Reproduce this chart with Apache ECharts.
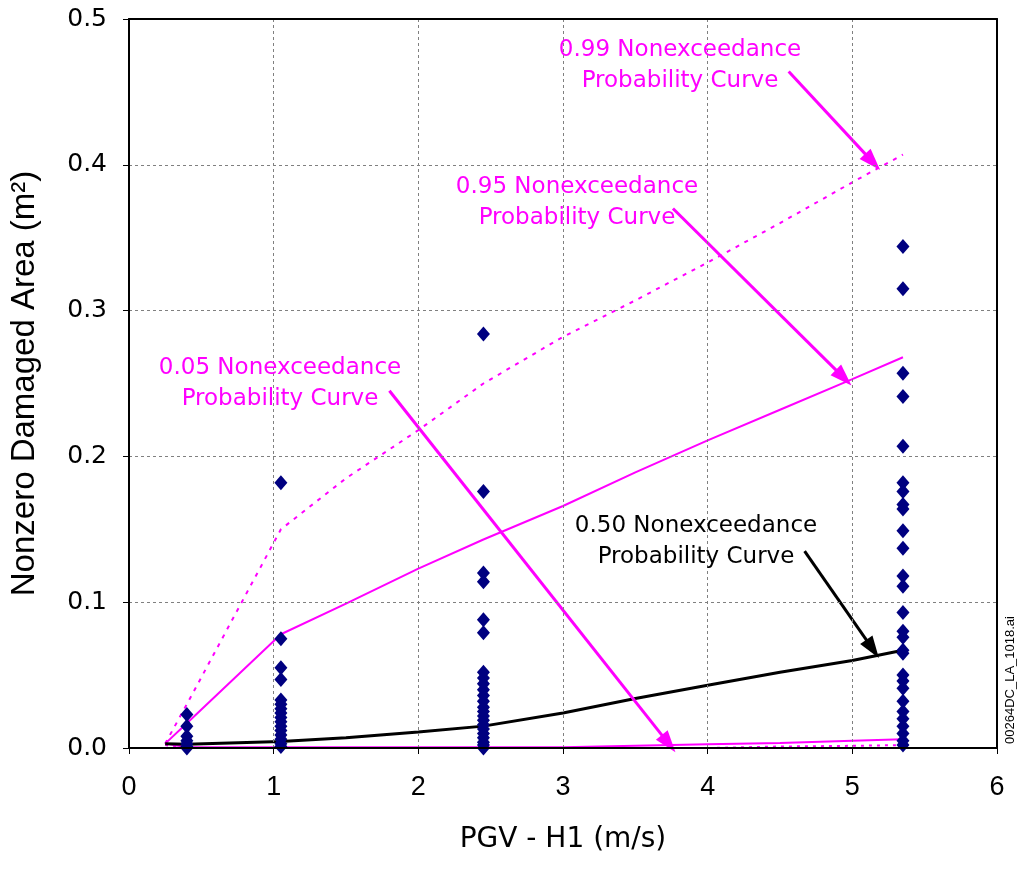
<!DOCTYPE html>
<html>
<head>
<meta charset="utf-8">
<script src="https://cdn.jsdelivr.net/npm/echarts@6/dist/echarts.min.js"></script>
<style>html,body{margin:0;padding:0;background:#fff}#c{width:1020px;height:869px}</style>
</head>
<body>
<div id="c"></div>
<script>
// ---- data ----
const pgvGroups = [0.4, 1.05, 2.45, 5.35];
const area04 = [0.023, 0.015, 0.008, 0.005, 0.003, 0.001, 0.0];
const area105 = [0.182, 0.075, 0.055, 0.047, 0.033, 0.030, 0.027, 0.024, 0.021, 0.018, 0.015, 0.012, 0.009, 0.006, 0.003, 0.001];
const area245 = [0.284, 0.176, 0.120, 0.114, 0.088, 0.079, 0.052, 0.048, 0.044, 0.040, 0.036, 0.032, 0.028, 0.025, 0.022, 0.019, 0.016, 0.013, 0.010, 0.007, 0.004, 0.002, 0.0];
const area535 = [0.344, 0.315, 0.257, 0.241, 0.207, 0.182, 0.176, 0.167, 0.164, 0.149, 0.137, 0.118, 0.111, 0.093, 0.080, 0.076, 0.067, 0.065, 0.050, 0.046, 0.041, 0.032, 0.025, 0.020, 0.015, 0.010, 0.005, 0.002];

const curveX = [0.25, 0.4, 1.05, 1.5, 2.0, 2.45, 3.0, 3.5, 4.0, 4.5, 5.0, 5.35];
const p50 = [0.003, 0.0025, 0.0045, 0.007, 0.011, 0.015, 0.024, 0.034, 0.043, 0.052, 0.060, 0.067];
const p95 = [0.003, 0.017, 0.078, 0.099, 0.123, 0.143, 0.166, 0.189, 0.211, 0.232, 0.253, 0.268];
const p99 = [0.003, 0.030, 0.150, 0.185, 0.218, 0.250, 0.282, 0.307, 0.333, 0.360, 0.388, 0.407];
const p05 = [0.003, 0.0005, 0.0005, 0.0005, 0.0005, 0.0005, 0.0005, 0.0015, 0.0025, 0.0035, 0.005, 0.006];
const p01 = [0.002, 0.0, 0.0, 0.0, 0.0, 0.0, 0.0, 0.0, 0.0, 0.001, 0.0015, 0.002];

const xTicks = [0, 1, 2, 3, 4, 5, 6];
const yTicks = ['0.0', '0.1', '0.2', '0.3', '0.4', '0.5'];

// annotation arrows in data coordinates: [from, to]
const arrow99 = [[4.56, 0.464], [5.14, 0.402]];
const arrow95 = [[3.76, 0.370], [4.94, 0.254]];
const arrow05 = [[1.80, 0.245], [3.73, 0.003]];
const arrow50 = [[4.67, 0.135], [5.14, 0.068]];

const labels = [
  {lines: ['0.99 Nonexceedance', 'Probability Curve'], color: '#ff00ff', cx: 680, cy: 50},
  {lines: ['0.95 Nonexceedance', 'Probability Curve'], color: '#ff00ff', cx: 577, cy: 187},
  {lines: ['0.05 Nonexceedance', 'Probability Curve'], color: '#ff00ff', cx: 280, cy: 368},
  {lines: ['0.50 Nonexceedance', 'Probability Curve'], color: '#000000', cx: 696, cy: 526}
];

// ---- build ----
const scatterData = [];
[area04, area105, area245, area535].forEach((arr, i) => arr.forEach(v => scatterData.push([pgvGroups[i], v])));
const zip = ys => curveX.map((x, i) => [x, ys[i]]);

const MAG = '#ff00ff';
const arrowLine = (pair, color) => ({
  type: 'line', data: [], silent: true, z: 5,
  markLine: {
    silent: true, animation: false,
    symbol: ['none', 'triangle'], symbolSize: [15, 22],
    label: {show: false},
    lineStyle: {color: color, width: 3, type: 'solid'},
    data: [[{coord: pair[0]}, {coord: pair[1]}]]
  }
});

const graphics = [];
labels.forEach(l => {
  l.lines.forEach((t, k) => {
    graphics.push({
      type: 'text', x: l.cx, y: l.cy + k * 31, z: 10,
      style: {text: t, fill: l.color, font: '23px "DejaVu Sans"', textAlign: 'center', textVerticalAlign: 'middle'}
    });
  });
});
graphics.push({
  type: 'text', x: 1010, y: 680, rotation: Math.PI / 2, z: 10,
  style: {text: '00264DC_LA_1018.ai', fill: '#000', font: '13px "Liberation Sans"', textAlign: 'center', textVerticalAlign: 'middle'}
});

const frameAxis = pos => ({
  type: 'value', min: pos === 'top' ? 0 : 0, max: pos === 'top' ? 6 : 0.5,
  position: pos, z: 6,
  axisLine: {show: true, onZero: false, lineStyle: {color: '#000', width: 2}},
  axisTick: {show: false}, axisLabel: {show: false}, splitLine: {show: false}
});

const chart = echarts.init(document.getElementById('c'), null, {renderer: 'canvas'});
chart.setOption({
  animation: false,
  backgroundColor: '#ffffff',
  grid: {left: 128, right: 23, top: 19, bottom: 121, show: false},
  xAxis: [{
    type: 'value', min: 0, max: 6, interval: 1, position: 'bottom', z: 6,
    name: 'PGV - H1 (m/s)', nameLocation: 'middle', nameGap: 78,
    nameTextStyle: {fontFamily: 'DejaVu Sans', fontSize: 28, color: '#000'},
    axisLine: {show: true, onZero: false, lineStyle: {color: '#000', width: 2}},
    axisTick: {show: true, length: 6, lineStyle: {color: '#000', width: 1}},
    axisLabel: {color: '#000', fontFamily: 'Liberation Sans', fontSize: 27, margin: 26,
      formatter: v => String(xTicks[Math.round(v)])},
    splitLine: {show: true, lineStyle: {color: '#808080', type: [3, 3], width: 1}}
  }, frameAxis('top')],
  yAxis: [{
    type: 'value', min: 0, max: 0.5, interval: 0.1, position: 'left', z: 6,
    name: 'Nonzero Damaged Area (m²)', nameLocation: 'middle', nameGap: 88,
    nameTextStyle: {fontFamily: 'Liberation Sans', fontSize: 33, color: '#000'},
    axisLine: {show: true, onZero: false, lineStyle: {color: '#000', width: 2}},
    axisTick: {show: true, length: 6, lineStyle: {color: '#000', width: 1}},
    axisLabel: {color: '#000', fontFamily: 'DejaVu Sans', fontSize: 25, margin: 22,
      formatter: v => yTicks[Math.round(v * 10)]},
    splitLine: {show: true, lineStyle: {color: '#808080', type: [3, 3], width: 1}}
  }, frameAxis('right')],
  series: [
    {type: 'line', data: zip(p01), symbol: 'none', lineStyle: {color: MAG, width: 2, type: [3, 5]}, z: 3},
    {type: 'line', data: zip(p05), symbol: 'none', lineStyle: {color: MAG, width: 2}, z: 3},
    {type: 'line', data: zip(p99), symbol: 'none', lineStyle: {color: MAG, width: 2, type: [4, 6]}, z: 3},
    {type: 'line', data: zip(p95), symbol: 'none', lineStyle: {color: MAG, width: 2}, z: 3},
    {type: 'line', data: zip(p50), symbol: 'none', lineStyle: {color: '#000', width: 3}, z: 3},
    {type: 'scatter', data: scatterData, symbol: 'diamond', symbolSize: [13, 15],
      itemStyle: {color: '#000080', opacity: 1}, z: 4},
    arrowLine(arrow99, MAG),
    arrowLine(arrow95, MAG),
    arrowLine(arrow05, MAG),
    arrowLine(arrow50, '#000')
  ],
  graphic: graphics
});
</script>
</body>
</html>
